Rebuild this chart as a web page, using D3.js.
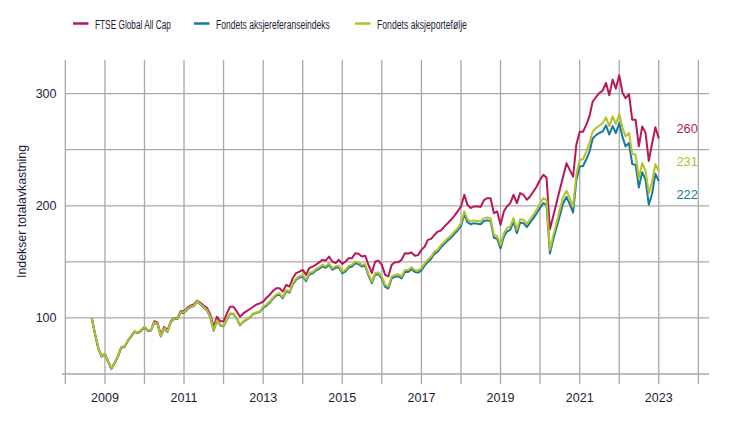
<!DOCTYPE html>
<html>
<head>
<meta charset="utf-8">
<script src="https://cdn.jsdelivr.net/npm/d3@7/dist/d3.min.js"></script>
<style>
  html, body { margin: 0; padding: 0; background: #ffffff; }
  svg { display: block; }
</style>
</head>
<body>
<svg id="chart" width="731" height="425"></svg>
<script>
// ---------------- DATA ----------------
const seriesNames = ["FTSE Global All Cap", "Fondets aksjereferanseindeks", "Fondets aksjeportefølje"];
const firstMonth = "2008-09-01"; // monthly observations from here on

const ftse = [
  100, 86, 73, 66,
  68, 61, 55, 60, 66, 74, 74.5, 80, 84, 88, 87, 89,
  92, 89, 89, 97, 96, 85, 92, 89, 97, 100, 100, 106,
  106, 109, 111, 112, 115.5, 113.5, 111, 109, 103, 92, 101, 97,
  97, 104, 110, 110, 106, 101, 104, 106, 108, 110, 112, 113,
  114.6, 118, 120.5, 124, 126.5, 126.5, 123.5, 129.5, 128, 135.4, 140, 141.3,
  142.8, 138.4, 144.4, 145.8, 147.3, 149.5, 151.8, 151, 154.7, 150.3, 149, 151.8,
  148.2, 150.3, 153.3, 153.3, 157.7, 157.2, 154.7, 155.5, 147, 140, 150.3, 151,
  147.3, 138.4, 137, 147.3, 149.6, 149.6, 151.8, 157.7, 157.5, 158.3, 155.4, 156,
  160.7, 163.7, 169.6, 170.5, 174, 177, 178, 181.5, 184.5, 187.5, 191, 195,
  199.4, 209.8, 200.9, 198, 199.4, 199.5, 199, 205, 206.8, 206.8, 193.4, 195,
  183, 195, 199.4, 202.4, 209.8, 202.4, 211.3, 209.8, 205.4, 208.3, 212.8, 217.2,
  223.2, 227.7, 225, 179, 190.5, 202.4, 214.3, 226, 238, 232, 226, 254.5,
  266, 266, 272, 279.7, 293, 297, 300.6, 302.7, 309.5, 298.5, 312.5, 304.5,
  316.3, 300.6, 296, 299.6, 276.8, 276.8, 253, 270.8, 265, 240, 256, 270,
  260
];

const benchmark = [
  100, 85.8, 72.5, 65.5,
  67.5, 60.5, 54.5, 59.5, 65.5, 73.5, 74, 79.5, 83.5, 87.5, 86.5, 88.5,
  91.5, 88.5, 88.5, 95.5, 94.5, 83.5, 90.5, 87.5, 96, 99, 99, 104.5,
  104.5, 107.5, 109.5, 110.5, 114.5, 112, 109.5, 106.5, 100.5, 88.5, 97.5, 93.5,
  92.5, 98.5, 103.5, 103.5, 99.5, 93.5, 96.5, 98.5, 100.5, 103.5, 104.5, 105.5,
  109, 111, 113.6, 117, 120, 121, 117.5, 124, 122.5, 130, 134, 136,
  137, 132.7, 138.7, 139.7, 142.2, 143.7, 146, 144.7, 147.5, 143, 144.7, 145.2,
  139.8, 141.5, 144.9, 145.8, 148.8, 148, 145.8, 146.5, 137.5, 131, 138.5, 139,
  135.2, 127.7, 126.2, 135.2, 136.6, 137.2, 135.2, 141, 141, 143.4, 141, 140.4,
  142.4, 146.8, 149.8, 152.7, 157.2, 159, 163, 166, 169, 171.5, 175, 178,
  182, 192.5, 185.5, 183.5, 184.5, 184, 183.5, 186.5, 187, 186.5, 171.5, 170.5,
  162, 172.6, 177, 178.5, 186, 175.6, 185, 184.5, 181, 185, 189, 193.4,
  198, 202.5, 200.5, 157.5, 169.5, 180.5, 191, 202, 208, 201.5, 194, 222.5,
  235.1, 235.5, 241, 248, 260, 263, 264.9, 266.3, 271.7, 263.5, 271.1, 264.9,
  273.8, 261, 253, 256, 237.2, 236.5, 216.3, 230, 223.2, 201, 211, 228.5,
  222
];

const portfolio = [
  100, 86, 73, 66,
  68, 61, 55, 60, 66, 74, 74.5, 80, 84, 88, 87, 89,
  92, 89, 89, 96, 95, 84, 91, 88, 96.5, 99.5, 99.5, 105,
  105, 108, 110, 111, 115, 112.5, 110, 107, 101, 89, 98, 94,
  93, 99, 104, 104, 100, 94, 97, 99, 101, 104, 105, 106,
  110, 112, 114.6, 118, 121, 122, 118.5, 125, 123.5, 131, 135, 137,
  138.4, 134, 140, 141, 143.5, 145, 147.3, 146, 148.8, 144.4, 146, 146.5,
  141.3, 143, 146.4, 147.3, 150.3, 149.5, 147.3, 148, 139, 132.5, 140, 140.5,
  137, 129.5, 128, 137, 138.4, 139, 137, 142.8, 142.8, 145.2, 142.8, 142.2,
  144.4, 148.8, 151.8, 154.7, 159.2, 161, 165, 168, 171, 173.5, 177, 180,
  184.5, 195, 188, 186, 187, 186.5, 186, 189, 189.5, 189, 174, 173,
  165, 175.6, 180, 181.5, 189, 178.6, 188, 187.5, 184, 188, 192, 196.4,
  202.4, 206.8, 205, 160.7, 173, 184.5, 196.4, 208, 213.4, 206.8, 199.4, 227.7,
  241, 241.5, 247.9, 255.9, 266.3, 269.3, 271.4, 273.8, 278.8, 271.1, 279.7, 272.9,
  281.8, 269.3, 261.9, 264.9, 246.1, 245.5, 224.7, 238, 231.2, 211.3, 221.7, 237.2,
  231
];

const yLabelTicks = [100, 200, 300];
const yGridTicks = [50, 100, 150, 200, 250, 300];
const xYears = [2008, 2009, 2010, 2011, 2012, 2013, 2014, 2015, 2016, 2017, 2018, 2019, 2020, 2021, 2022, 2023, 2024];
const xLabelYears = [2009, 2011, 2013, 2015, 2017, 2019, 2021, 2023];
const yTitle = "Indekser totalavkastning";

// ---------------- STYLE / LAYOUT ----------------
const colors = ["#b8175c", "#17799b", "#b3c229"];
const textColor = "#1c1c36";
const gridColor = "#a9a9a9";
const font = "'Liberation Sans', Arial, sans-serif";

const svg = d3.select("#chart");

const x = d3.scaleTime()
  .domain([new Date(2008, 0, 1), new Date(2024, 0, 1)])
  .range([65.3, 698.3]);
const y = d3.scaleLinear().domain([50, 330]).range([374, 60]);

const start = new Date(firstMonth + "T00:00:00");
const months = d3.timeMonth.range(start, d3.timeMonth.offset(start, ftse.length));
const allSeries = [ftse, benchmark, portfolio];

const plotLeft = 62, plotRight = 709;

// horizontal grid
svg.append("g").selectAll("line").data(yGridTicks).join("line")
  .attr("x1", d => d === 50 ? plotLeft : 65.3)
  .attr("x2", plotRight)
  .attr("y1", d => y(d)).attr("y2", d => y(d))
  .attr("stroke", gridColor).attr("stroke-width", 1.3);

// vertical grid + ticks
svg.append("g").selectAll("line").data(xYears).join("line")
  .attr("x1", d => x(new Date(d, 0, 1))).attr("x2", d => x(new Date(d, 0, 1)))
  .attr("y1", y(330)).attr("y2", y(50) + 10)
  .attr("stroke", gridColor).attr("stroke-width", 1.3);

// x labels
svg.append("g").selectAll("text").data(xLabelYears).join("text")
  .attr("x", d => x(new Date(d, 0, 1)))
  .attr("y", 401.5)
  .attr("text-anchor", "middle")
  .attr("font-family", font).attr("font-size", 12.5)
  .attr("fill", textColor)
  .text(d => d);

// y labels
svg.append("g").selectAll("text").data(yLabelTicks).join("text")
  .attr("x", 56.5)
  .attr("y", d => y(d) + 4.5)
  .attr("text-anchor", "end")
  .attr("font-family", font).attr("font-size", 12.5)
  .attr("fill", textColor)
  .text(d => d);

// y title
svg.append("text")
  .attr("transform", "translate(25.5,211.5) rotate(-90)")
  .attr("text-anchor", "middle")
  .attr("font-family", font).attr("font-size", 12.5)
  .attr("fill", textColor)
  .attr("textLength", 133)
  .attr("lengthAdjust", "spacingAndGlyphs")
  .text(yTitle);

// lines
const line = d3.line().x((d, i) => x(months[i])).y(d => y(d));
svg.append("g").selectAll("path").data(allSeries).join("path")
  .attr("d", d => line(d))
  .attr("fill", "none")
  .attr("stroke", (d, i) => colors[i])
  .attr("stroke-width", 2)
  .attr("stroke-linejoin", "round");

// end labels (spread to avoid overlap)
const ends = allSeries.map((s, i) => ({ v: s[s.length - 1], c: colors[i], py: y(s[s.length - 1]) }));
const sorted = ends.slice().sort((a, b) => a.py - b.py);
const gap = 33;
const meanY = d3.mean(sorted, d => d.py) - 2.5;
sorted.forEach((d, i) => { d.ly = meanY + (i - (sorted.length - 1) / 2) * gap; });
svg.append("g").selectAll("text").data(ends).join("text")
  .attr("x", 676.5)
  .attr("y", d => d.ly + 4.6)
  .attr("font-family", font).attr("font-size", 12.8)
  .attr("fill", d => d.c)
  .text(d => d3.format(".0f")(d.v));

// legend (condensed look via horizontal scaling)
const legendX = [73, 194, 355];
const legendTextW = [76, 114, 90];
const lg = svg.append("g");
seriesNames.forEach((name, i) => {
  lg.append("line")
    .attr("x1", legendX[i]).attr("x2", legendX[i] + 15.5)
    .attr("y1", 23.5).attr("y2", 23.5)
    .attr("stroke", colors[i]).attr("stroke-width", 2.5);
  const g = lg.append("g");
  const t = g.append("text")
    .attr("x", 0).attr("y", 0)
    .attr("font-family", font)
    .attr("font-size", 13.5)
    .attr("fill", textColor)
    .text(name);
  const natural = t.node().getComputedTextLength();
  const sx = legendTextW[i] / natural;
  g.attr("transform", `translate(${legendX[i] + 22},28.8) scale(${sx},1)`);
});
</script>
</body>
</html>
